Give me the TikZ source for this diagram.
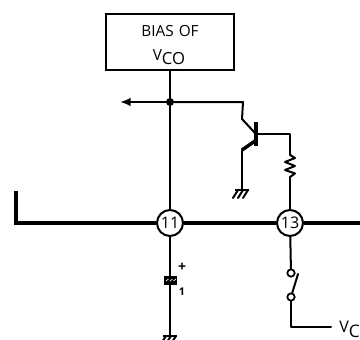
\documentclass[tikz,border=0pt]{standalone}
\usepackage{fontspec}
\setmainfont{Open Sans}
\usetikzlibrary{arrows.meta}
\tikzset{
  wire/.style={line width=1.5pt,line cap=round,line join=round},
  bus/.style={line width=3.1pt,line join=miter},
  numcirc/.style={circle,draw,line width=1.5pt,fill=white,minimum size=19.5pt,inner sep=0pt,font=\fontsize{12}{12}\selectfont},
  biasbox/.style={draw,line width=1.5pt,fill=white,minimum width=96.5pt,minimum height=42.5pt,inner sep=0pt},
  lab/.style={inner sep=0pt,font=\fontsize{11.5}{12}\selectfont},
  dotc/.style={circle,fill=black,minimum size=6pt,inner sep=0pt},
  contact/.style={circle,draw,line width=1.3pt,fill=white,minimum size=5.5pt,inner sep=0pt}
}
\begin{document}
\begin{tikzpicture}[x=0.75pt,y=-0.75pt]
\useasboundingbox (0,0) rectangle (360,339);
\begin{scope}
\clip (0,0) rectangle (360,339);
% nodes
\node[biasbox] (box) at (170,42) {};
\node[lab] (t1) at (170,31) {BIAS\,\,OF};
\node[lab] (t2) at (169,57) {V\raisebox{-2.5pt}{\fontsize{12.5}{12}\selectfont CO}};
\node[dotc] (j) at (170,102) {};
\coordinate (arr) at (120,102);
\coordinate (c1) at (243,102);
\coordinate (c2) at (242,119);
\coordinate (bt) at (256,122);
\coordinate (bb) at (256,146);
\coordinate (cb) at (255,133);
\coordinate (eb) at (255,141);
\coordinate (e1) at (242,150);
\coordinate (g1) at (242,180);
\coordinate (b1) at (256,134);
\coordinate (b2) at (290,134);
\coordinate (r1) at (290,153);
\coordinate (r2) at (290,177);
\coordinate (bl1) at (16,191);
\coordinate (bl2) at (16,223);
\coordinate (br) at (362,223);
\node[numcirc] (n11) at (170,223) {11};
\node[numcirc] (n13) at (290,223) {13};
% bus
\draw[bus] (bl1) -- (bl2) -- (n11);
\draw[bus] (n11) -- (n13);
\draw[bus] (n13) -- (br);
% vertical & top
\draw[wire] (box) -- (j);
\draw[wire] (j) -- (n11);
\draw[wire,-{Latex[length=8pt,width=6.5pt]}] (j) -- (arr);
\draw[wire] (j) -- (c1) -- (c2) -- (cb);
% transistor
\draw[line width=3pt] (bt) -- (bb);
\draw[wire] (e1) -- (g1);
\draw[line width=2.6pt] (e1) -- (eb);
\draw[wire] (b1) -- (b2) -- (r1);
\draw[wire] (r1) -- ++(0,2) -- ++(5,3) -- ++(-10,4) -- ++(10,4) -- ++(-10,4) -- ++(10,3.5) -- (r2);
\draw[wire] (r2) -- (n13);
% ground 1
\draw[wire] (g1) -- (242,190);
\draw[line width=1.5pt] (235,190) -- (249,190);
\draw[wire] (238,190) -- (233,198);
\draw[wire] (243,190) -- (238,198);
\draw[wire] (248,190) -- (243,198);
% zener
\coordinate (z2) at (170,335);
\draw[wire] (n11) -- (z2);
\fill (164,275.5) rectangle (177,284.5);
\draw[white,line width=0.5pt] (166,281) -- (168.5,279) (170,281) -- (172.5,279) (173.5,281) -- (176,279);
\node[lab,font=\bfseries\fontsize{10.5}{10}\selectfont] (plus) at (182,267) {+};
\node[lab,font=\bfseries\fontsize{8}{8}\selectfont] (one) at (182,291.5) {1};
% ground 2
\draw[line width=1.5pt] (163,336) -- (177,336);
\draw[wire] (166,336) -- (162,342);
\draw[wire] (171,336) -- (167,342);
\draw[wire] (176,336) -- (172,342);
% switch
\node[contact] (s1) at (291,273) {};
\node[contact] (s2) at (291,297) {};
\coordinate (bl) at (298,274);
\coordinate (v1) at (291,327);
\coordinate (v2) at (331,327);
\draw[wire] (n13) -- (s1);
\draw[wire] (s2) -- (bl);
\draw[wire] (s2) -- (v1) -- (v2);
\node[lab,anchor=base west,font=\fontsize{12}{12}\selectfont] (vc) at (339,332) {V\raisebox{-4pt}{\fontsize{13}{13}\selectfont C}};
\end{scope}
\end{tikzpicture}
\end{document}
